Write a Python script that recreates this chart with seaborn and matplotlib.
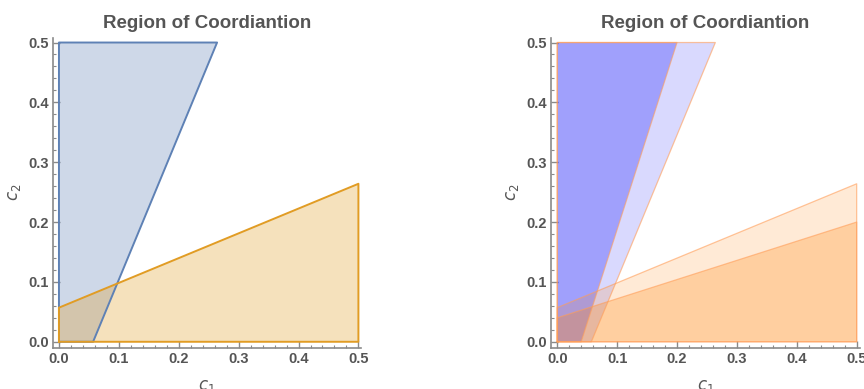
import numpy as np
import pandas as pd
import matplotlib
matplotlib.use("Agg")
import matplotlib.pyplot as plt
import seaborn as sns

# ---- data (region vertices) ----
title_text = "Region of Coordiantion"
tick_values = [0.0, 0.1, 0.2, 0.3, 0.4, 0.5]
tick_labels = ["0.0", "0.1", "0.2", "0.3", "0.4", "0.5"]

# left panel
blue_c1 = [0.0, 0.057, 0.264, 0.0]
blue_c2 = [0.0, 0.0, 0.5, 0.5]
orange_c1 = [0.0, 0.5, 0.5, 0.0]
orange_c2 = [0.0, 0.0, 0.264, 0.057]

# right panel (wide = same as left, narrow = smaller threshold)
blue_wide_c1 = [0.0, 0.057, 0.264, 0.0]
blue_wide_c2 = [0.0, 0.0, 0.5, 0.5]
blue_narrow_c1 = [0.0, 0.04, 0.2, 0.0]
blue_narrow_c2 = [0.0, 0.0, 0.5, 0.5]
orange_wide_c1 = [0.0, 0.5, 0.5, 0.0]
orange_wide_c2 = [0.0, 0.0, 0.264, 0.057]
orange_narrow_c1 = [0.0, 0.5, 0.5, 0.0]
orange_narrow_c2 = [0.0, 0.0, 0.2, 0.04]

sns.set_theme(style="ticks")
plt.rcParams['font.family'] = ['Liberation Sans', 'DejaVu Sans']
plt.rcParams['mathtext.fontset'] = 'dejavusans'

GRAY = "#555555"
SPINE = "#8a8a8a"

fig = plt.figure(figsize=(8.64, 3.89), dpi=100)
ax1 = fig.add_axes([0.0613, 0.106, 0.357, 0.797])
ax2 = fig.add_axes([0.638, 0.106, 0.357, 0.797])


def outline(ax, xs, ys, color, lw, alpha=1.0):
    df = pd.DataFrame({"c1": list(xs) + [xs[0]], "c2": list(ys) + [ys[0]],
                       "i": range(len(xs) + 1)})
    sns.lineplot(data=df, x="c1", y="c2", sort=False, estimator=None,
                 color=color, lw=lw, alpha=alpha, ax=ax)


# left panel
ax1.fill(blue_c1, blue_c2, color="#5e81b5", alpha=0.3, lw=0)
ax1.fill(orange_c1, orange_c2, color="#e19c24", alpha=0.3, lw=0)
outline(ax1, blue_c1, blue_c2, "#5e81b5", 1.4)
outline(ax1, orange_c1, orange_c2, "#e19c24", 1.4)

# right panel
edge = (1.0, 0.62, 0.35)
ax2.fill(blue_wide_c1, blue_wide_c2, color=(0.0, 0.0, 0.98), alpha=0.15, lw=0)
ax2.fill(blue_narrow_c1, blue_narrow_c2, color=(0.0, 0.0, 0.98), alpha=0.26, lw=0)
ax2.fill(orange_wide_c1, orange_wide_c2, color=(1.0, 0.5, 0.0), alpha=0.16, lw=0)
ax2.fill(orange_narrow_c1, orange_narrow_c2, color=(1.0, 0.5, 0.0), alpha=0.25, lw=0)
for xs, ys in [(blue_wide_c1, blue_wide_c2), (blue_narrow_c1, blue_narrow_c2),
               (orange_wide_c1, orange_wide_c2), (orange_narrow_c1, orange_narrow_c2)]:
    outline(ax2, xs, ys, edge, 0.9, alpha=0.6)

for ax in (ax1, ax2):
    ax.set_xlim(-0.01, 0.505)
    ax.set_ylim(-0.01, 0.508)
    ax.set_xticks(tick_values)
    ax.set_xticklabels(tick_labels)
    ax.set_yticks(tick_values)
    ax.set_yticklabels(tick_labels)
    ax.set_xticks(np.arange(0, 0.501, 0.02), minor=True)
    ax.set_yticks(np.arange(0, 0.501, 0.02), minor=True)
    ax.tick_params(which="major", direction="in", length=5, width=1,
                   color=SPINE, labelsize=10.5, labelcolor=GRAY, pad=3)
    ax.tick_params(which="minor", direction="in", length=2.5, width=0.8,
                   color=SPINE)
    for lab in ax.get_xticklabels() + ax.get_yticklabels():
        lab.set_fontweight("bold")
    sns.despine(ax=ax)
    ax.spines["left"].set_color(SPINE)
    ax.spines["bottom"].set_color(SPINE)
    ax.spines["left"].set_linewidth(1.2)
    ax.spines["bottom"].set_linewidth(1.2)
    ax.spines["left"].set_bounds(-0.01, 0.508)
    ax.set_xlabel("$c_1$", fontsize=12, color=GRAY, labelpad=9)
    ax.set_ylabel("$c_2$", fontsize=12, color=GRAY, labelpad=4)
    ax.set_title(title_text, fontsize=13.5, fontweight="bold", color=GRAY, pad=7)

fig.savefig("out.png", dpi=100)
